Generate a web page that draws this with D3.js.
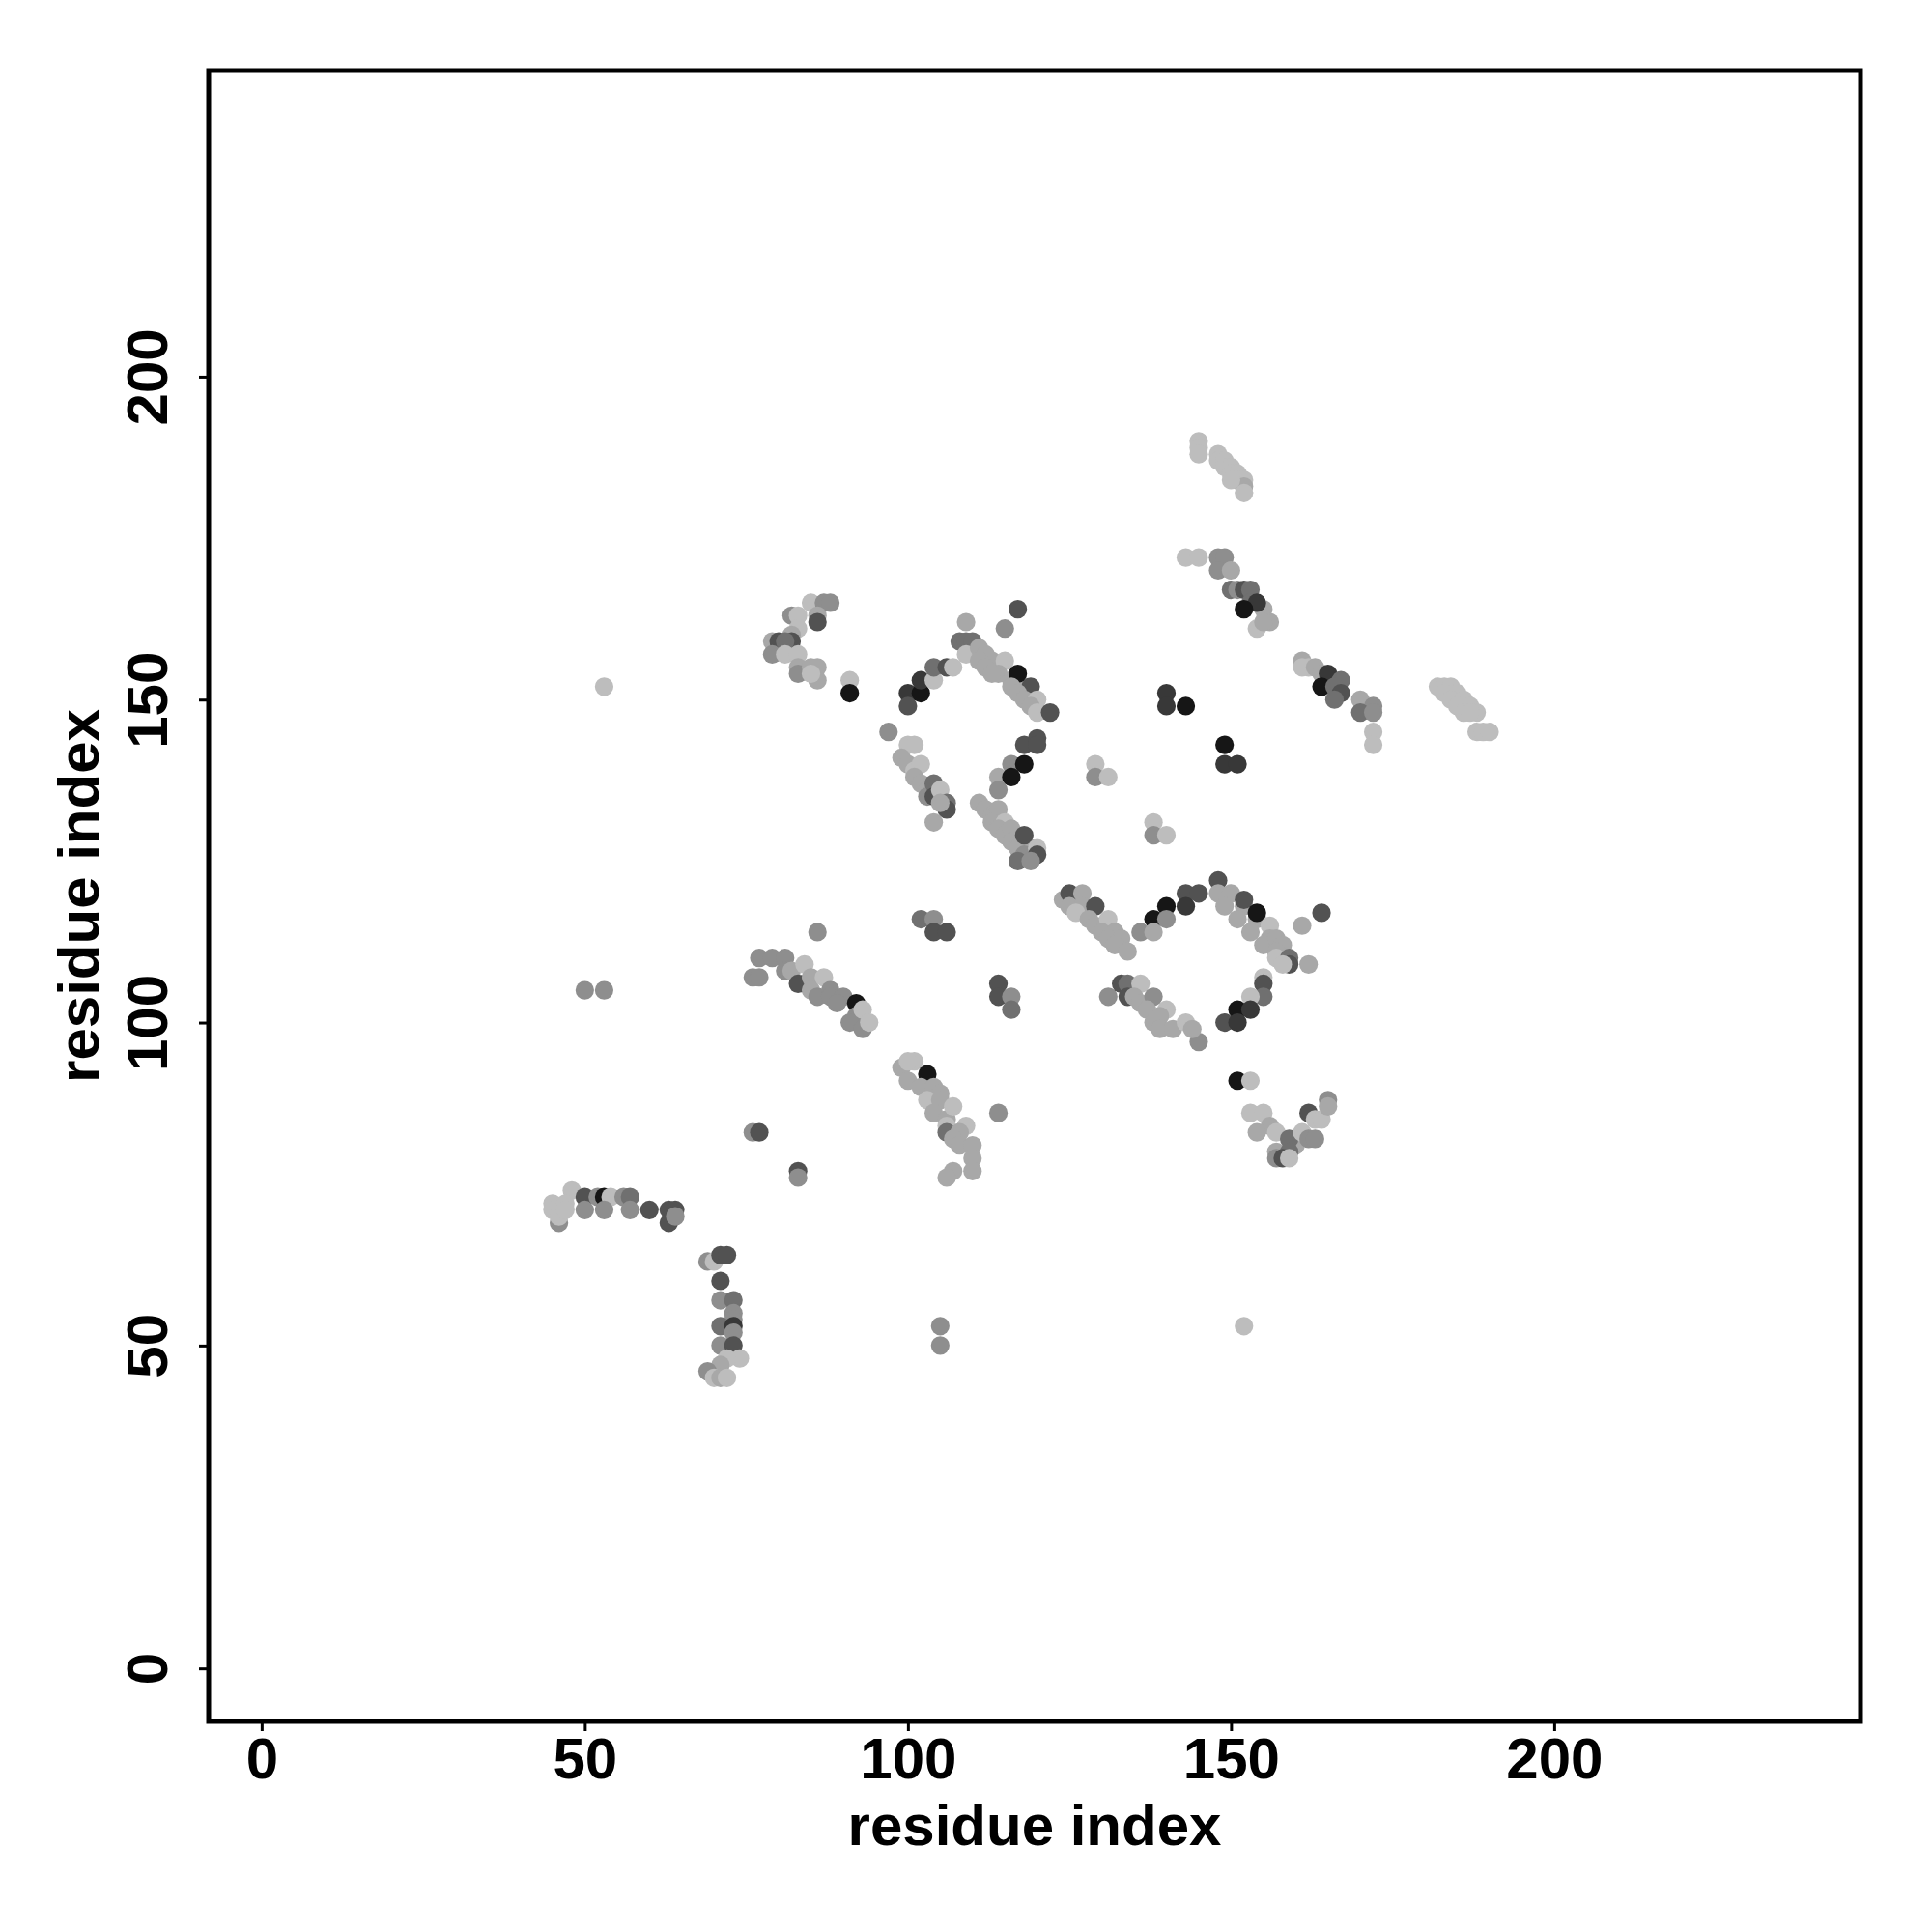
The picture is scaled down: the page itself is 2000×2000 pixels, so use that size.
<!DOCTYPE html>
<html lang="en">
<head>
    <meta charset="UTF-8">
    <title>residue contact map</title>
    <script src="https://d3js.org/d3.v7.min.js"></script>
    <style>
        body { margin: 0; background: #fff; }
        text { font-family: "Liberation Sans", Arial, Helvetica, sans-serif; font-weight: bold; fill: #000; }
    </style>
</head>
<body>
<svg width="2000" height="2000"></svg>
<script>
    // contacts as [residue i, residue j, shade level 1 (light) .. 7 (dark)]
    const clusterTopDiag = [[145,190,1],[145,189,1],[145,188,1],[148,188,1],[148,187,1],[149,187,1],[149,186,1],[150,186,1],
        [150,185,1],[151,185,1],[151,184,1],[152,184,1],[152,183,2],[152,182,1],[150,184,1]];
    const cluster150_167 = [[143,172,1],[145,172,1],[148,172,3],[149,172,3],[148,170,3],[150,170,2],[150,167,4],[151,167,3],
        [152,167,5],[153,167,4],[153,165,4],[155,164,2],[154,161,1],[156,162,2],[155,162,2],[154,165,6],[152,164,7]];
    const cluster165_152 = [[161,156,2],[162,155,1],[161,155,1],[163,155,2],[164,154,2],[165,154,6],[164,152,7],[167,153,4],
        [166,152,4],[167,151,5],[166,150,4],[170,150,2],[172,149,3],[170,148,4],[172,148,3],[172,145,1],[172,143,1]];
    const cluster185_150 = [[182,152,1],[183,152,1],[184,152,1],[183,151,1],[185,151,1],[184,150,1],[186,150,1],[185,149,1],
        [187,149,1],[186,148,1],[188,148,1],[187,148,1],[188,145,1],[189,145,1],[190,145,1]];
    const clusterDark140 = [[149,143,7],[149,140,6],[151,140,6],[140,151,6],[140,149,6],[143,149,7]];
    const cluster83_160 = [[85,165,1],[87,165,3],[88,165,3],[86,163,2],[86,162,5],[82,163,3],[83,163,1],[83,161,1],[82,160,2],
        [79,159,2],[80,159,5],[82,159,5],[81,159,4],[79,157,3],[81,157,1],[83,157,1],[83,155,2],[83,154,3],[85,155,2],
        [86,155,2],[86,153,2],[85,154,1],[53,152,1],[91,153,1],[91,151,7]];
    const cluster103_152 = [[100,151,6],[100,149,5],[102,151,7],[102,153,6],[104,153,1],[104,155,4],[106,155,5],[107,155,1]];
    const cluster115_155 = [[117,164,5],[109,162,2],[115,161,3],[108,159,4],[109,159,4],[110,159,4],[109,157,1],[111,158,2],
        [112,157,2],[113,156,2],[111,156,2],[112,155,2],[115,156,1],[114,154,2],[113,154,2],[116,153,2],[118,152,2],
        [117,154,7],[116,152,2],[119,152,5],[117,151,2],[118,150,2],[120,150,1],[119,149,2],[120,148,1],[122,148,5]];
    const cluster102_138 = [[97,145,3],[100,143,1],[101,143,1],[99,141,2],[100,140,2],[101,139,1],[102,140,1],[101,138,2],
        [102,137,2],[103,136,2],[103,135,3],[104,137,4],[104,135,5],[105,136,1],[106,134,4],[106,133,5],[105,134,2],[104,131,2]];
    const cluster117_140 = [[118,143,5],[120,144,5],[120,143,5],[116,140,3],[118,140,7],[114,138,2],[116,138,7],[114,136,3],
        [129,140,1],[129,138,3],[131,138,1],[138,131,1],[138,129,3],[140,129,1]];
    const cluster116_129 = [[111,134,2],[112,133,2],[113,132,2],[114,133,2],[113,131,2],[115,131,1],[114,130,2],[115,129,2],
        [116,130,2],[116,128,2],[117,127,2],[119,127,2],[118,129,5],[118,126,3],[120,127,1],[120,126,5],[117,125,4],[119,125,3]];
    const cluster104_115 = [[102,116,4],[104,116,3],[104,114,5],[106,114,5],[114,106,5],[114,104,5],[116,104,3],[116,102,4]];
    const cluster129_116 = [[124,119,2],[126,119,2],[125,120,5],[127,120,2],[125,118,2],[127,118,2],[126,117,1],[129,118,5],
        [128,116,2],[129,115,2],[131,116,1],[130,114,2],[132,114,2],[131,113,2],[133,113,2],[132,112,2],[134,111,2]];
    const cluster140_117 = [[138,116,7],[140,118,7],[140,116,3],[136,114,3],[138,114,2],[143,120,5],[143,118,6],[145,120,5]];
    const cluster155_110 = [[148,122,5],[148,120,2],[150,120,2],[149,118,2],[152,118,2],[152,119,5],[154,116,2],[154,117,7],
        [151,116,2],[153,114,2],[156,115,1],[156,113,2],[155,112,2],[157,113,2],[158,112,2],[157,111,2],[157,110,1],
        [159,110,4],[159,109,5],[158,109,1],[161,115,2],[164,117,5],[162,109,2],[155,107,1],[155,106,5],[155,104,4],
        [153,104,1],[151,102,7],[153,102,6],[149,100,5],[151,100,6],[145,97,3]];
    const cluster137_102 = [[131,104,3],[133,106,5],[134,106,4],[136,106,1],[134,104,5],[135,104,2],[136,103,2],[138,104,3],
        [137,102,2],[140,102,1],[138,100,2],[139,101,2],[139,99,2],[141,99,2],[143,100,1],[144,99,2]];
    const cluster85_105 = [[50,105,3],[53,105,3],[86,114,3],[77,110,3],[79,110,3],[81,110,3],[76,107,3],[77,107,3],[81,108,3],
        [82,108,2],[84,109,1],[84,106,3],[83,106,5],[85,107,2],[85,105,2],[87,107,1],[86,104,3],[88,105,3],[88,104,3],
        [90,104,3],[89,103,3],[92,103,7],[92,101,3],[91,100,3],[93,99,3],[93,102,1],[94,100,1]];
    const cluster105_85 = [[99,93,2],[101,94,1],[100,94,1],[103,92,7],[100,91,2],[102,90,2],[104,90,2],[105,89,2],[103,88,1],
        [105,88,2],[104,86,2],[106,85,2],[107,87,1],[106,84,1],[106,83,4],[109,84,1],[108,83,2],[107,82,2],[108,81,2],
        [110,81,2],[110,79,2],[110,77,2],[107,77,2],[106,76,2],[114,86,3],[105,53,3],[105,50,3]];
    const cluster158_84 = [[151,91,7],[153,91,1],[153,86,1],[155,86,1],[156,84,2],[154,83,2],[157,83,1],[157,80,2],[160,81,2],
        [159,82,4],[159,80,4],[157,79,3],[158,79,5],[159,79,1],[161,83,1],[162,82,3],[163,82,3],[162,86,5],[163,85,1],
        [164,85,1],[165,88,3],[165,87,2],[152,53,1]];
    const cluster55_71 = [[45,72,1],[45,71,1],[46,69,3],[46,70,1],[48,74,1],[47,72,1],[47,71,1],[50,73,5],[50,71,3],[52,73,3],
        [53,73,7],[54,73,1],[53,71,3],[56,73,3],[57,73,4],[57,71,3],[60,71,5],[63,71,5],[64,71,5],[63,69,5],[64,70,3],
        [76,83,3],[77,83,5],[83,77,5],[83,76,3]];
    const cluster71_55 = [[69,63,3],[70,63,1],[71,64,5],[72,64,5],[71,60,5],[71,57,3],[73,57,4],[73,55,3],[73,54,3],[71,53,4],
        [73,53,6],[73,52,3],[71,50,3],[73,50,5],[74,48,1],[72,48,1],[71,47,2],[69,46,3],[70,45,1],[71,45,2],[72,45,1]];

    const shadeColors = ["#bdbdbd", "#a8a8a8", "#8e8e8e", "#707070", "#525252", "#383838", "#161616"];
    const tickValues = [0, 50, 100, 150, 200];
    const axisTitle = "residue index";

    const contacts = [].concat(clusterTopDiag, cluster150_167, cluster165_152, cluster185_150, clusterDark140,
        cluster83_160, cluster103_152, cluster115_155, cluster102_138, cluster117_140, cluster116_129, cluster104_115,
        cluster129_116, cluster140_117, cluster155_110, cluster137_102, cluster85_105, cluster105_85, cluster158_84,
        cluster55_71, cluster71_55);

    const plotLeft = 216, plotRight = 1926, plotTop = 73, plotBottom = 1782;

    const svg = d3.select("svg");
    svg.append("rect").attr("width", 2000).attr("height", 2000).attr("fill", "#fff");

    const x = d3.scaleLinear().domain([-8.2, 247.4]).range([plotLeft, plotRight]);
    const y = d3.scaleLinear().domain([-8.2, 247.4]).range([plotBottom, plotTop]);

    // points
    svg.append("g")
        .selectAll("circle")
        .data(contacts)
        .enter().append("circle")
        .attr("cx", d => x(d[0]))
        .attr("cy", d => y(d[1]))
        .attr("r", 9.6)
        .attr("fill", d => shadeColors[d[2] - 1]);

    // axes
    const xAxis = svg.append("g")
        .attr("transform", `translate(0,${plotBottom})`)
        .call(d3.axisBottom(x).tickValues(tickValues).tickSize(10).tickSizeOuter(0));
    xAxis.select(".domain").remove();
    xAxis.selectAll("line").attr("stroke", "#000").attr("stroke-width", 3);
    xAxis.selectAll("text")
        .attr("y", 59)
        .attr("dy", null)
        .style("font-size", "60px");

    const yAxis = svg.append("g")
        .attr("transform", `translate(${plotLeft},0)`)
        .call(d3.axisLeft(y).tickValues(tickValues).tickSize(10).tickSizeOuter(0));
    yAxis.select(".domain").remove();
    yAxis.selectAll("line").attr("stroke", "#000").attr("stroke-width", 3);
    yAxis.selectAll("text")
        .attr("x", null)
        .attr("dy", null)
        .attr("text-anchor", "middle")
        .attr("transform", "translate(-43,0) rotate(-90)")
        .style("font-size", "60px");

    // frame
    svg.append("rect")
        .attr("x", plotLeft).attr("y", plotTop)
        .attr("width", plotRight - plotLeft).attr("height", plotBottom - plotTop)
        .attr("fill", "none")
        .attr("stroke", "#000")
        .attr("stroke-width", 5);

    // titles
    svg.append("text")
        .attr("x", (plotLeft + plotRight) / 2)
        .attr("y", 1910)
        .attr("text-anchor", "middle")
        .style("font-size", "60px")
        .text(axisTitle);

    svg.append("text")
        .attr("transform", `translate(102,${(plotTop + plotBottom) / 2}) rotate(-90)`)
        .attr("text-anchor", "middle")
        .style("font-size", "60px")
        .text(axisTitle);
</script>
</body>
</html>
